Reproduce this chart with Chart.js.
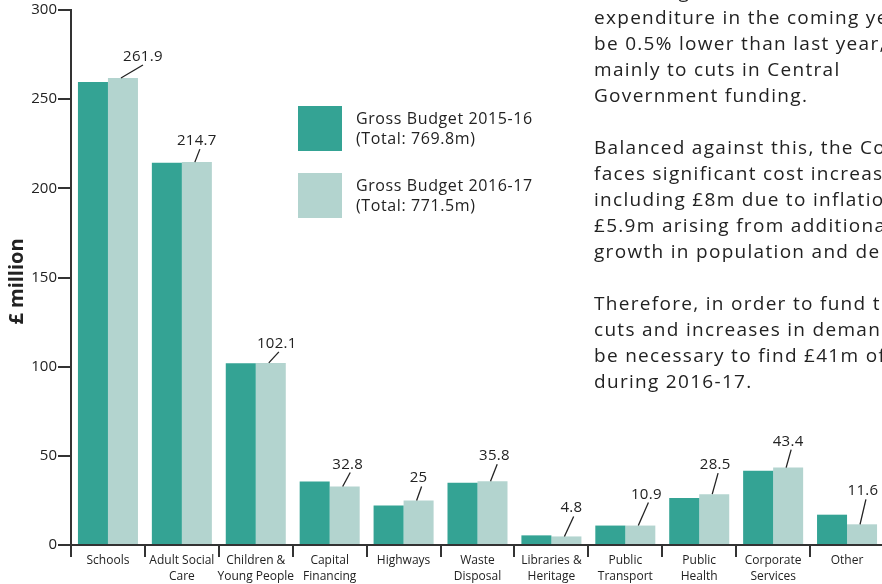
<!DOCTYPE html>
<html>
<head>
<meta charset="utf-8">
<script src="https://cdn.jsdelivr.net/npm/chart.js@4.4.1/dist/chart.umd.min.js"></script>
<style>
  html, body { margin: 0; padding: 0; background: #fff; overflow: hidden; }
  #wrap { position: relative; width: 890px; height: 584px; }
</style>
</head>
<body>
<div id="wrap"><canvas id="budget"></canvas></div>
<script>
// Service areas (multi-line axis labels)
const categories = [
  ["Schools"], ["Adult Social", "Care"], ["Children &", "Young People"],
  ["Capital", "Financing"], ["Highways"], ["Waste", "Disposal"],
  ["Libraries &", "Heritage"], ["Public", "Transport"], ["Public", "Health"],
  ["Corporate", "Services"], ["Other"]
];
// Gross budget, £ million
const budget2015 = [259.6, 214.4, 101.9, 35.6, 22.2, 34.9, 5.4, 10.9, 26.3, 41.6, 17.0];
const budget2016 = [261.9, 214.7, 102.1, 32.8, 25, 35.8, 4.8, 10.9, 28.5, 43.4, 11.6];
const seriesNames = ["Gross Budget 2015-16", "Gross Budget 2016-17"];
const seriesTotals = ["(Total: 769.8m)", "(Total: 771.5m)"];
const yTicks = [0, 50, 100, 150, 200, 250, 300];
const axisTitle = "£ million";

// Accompanying commentary, one entry per printed line
const commentary = [
  "Overall, gross revenue",
  "expenditure in the coming year will",
  "be 0.5% lower than last year, due",
  "mainly to cuts in Central",
  "Government funding.",
  "",
  "Balanced against this, the Council",
  "faces significant cost increases,",
  "including £8m due to inflation and",
  "£5.9m arising from additional",
  "growth in population and demand.",
  "",
  "Therefore, in order to fund these",
  "cuts and increases in demand, it will",
  "be necessary to find £41m of savings",
  "during 2016-17."
];

// Callout placement for the 2016-17 value labels: [x shift, rise above bar]
const calloutPlacement = [
  [20, 17], [0, 17], [6, 15], [3, 18], [0, 18], [2, 21],
  [5, 24], [6, 27], [1, 25], [0, 22], [1, 29]
];

const COLORS = { dark: "#34a394", light: "#b3d4cf", ink: "#222222", axis: "#333333" };
const FONT = "'Open Sans', 'Noto Sans', sans-serif";

const calloutPlugin = {
  id: "callouts",
  afterDatasetsDraw(chart) {
    const ctx = chart.ctx;
    const meta = chart.getDatasetMeta(1);
    ctx.save();
    ctx.font = "15px " + FONT;
    ctx.letterSpacing = "0.3px";
    ctx.fillStyle = COLORS.ink;
    ctx.strokeStyle = COLORS.ink;
    ctx.lineWidth = 1.3;
    ctx.textAlign = "center";
    ctx.textBaseline = "alphabetic";
    meta.data.forEach((bar, i) => {
      const [dx, rise] = calloutPlacement[i];
      const top = bar.y;
      const cx = bar.x;
      const base = top - rise;
      ctx.beginPath();
      ctx.moveTo(cx - 2, top);
      ctx.lineTo(cx + dx * 0.85 + 3, base + 4);
      ctx.stroke();
      ctx.fillText(String(budget2016[i]), cx + dx, base);
    });
    ctx.restore();
  }
};

const decorPlugin = {
  id: "decor",
  afterDraw(chart) {
    const ctx = chart.ctx;
    const area = chart.chartArea;
    ctx.save();
    // Axis title
    ctx.font = "bold 20px " + FONT;
    ctx.fillStyle = COLORS.ink;
    ctx.textAlign = "center";
    ctx.textBaseline = "middle";
    ctx.translate(17, (area.top + area.bottom) / 2 + 4);
    ctx.rotate(-Math.PI / 2);
    ctx.fillText(axisTitle, 0, 0);
    ctx.restore();

    // Legend
    ctx.save();
    const swatches = [COLORS.dark, COLORS.light];
    ctx.font = "16px " + FONT;
    ctx.letterSpacing = "0.6px";
    ctx.fillStyle = COLORS.ink;
    ctx.textAlign = "left";
    ctx.textBaseline = "alphabetic";
    swatches.forEach((c, k) => {
      const y0 = 106 + k * 67;
      ctx.fillStyle = c;
      ctx.fillRect(298, y0, 44, 45);
      ctx.fillStyle = COLORS.ink;
      ctx.fillText(seriesNames[k], 356, y0 + 18);
      ctx.fillText(seriesTotals[k], 356, y0 + 38);
    });
    ctx.restore();

    // Commentary text
    ctx.save();
    ctx.font = "19px " + FONT;
    ctx.letterSpacing = "1.3px";
    ctx.fillStyle = COLORS.ink;
    ctx.textAlign = "left";
    ctx.textBaseline = "alphabetic";
    commentary.forEach((line, k) => {
      if (line) ctx.fillText(line, 594, -2 + k * 26);
    });
    ctx.restore();
  }
};

new Chart(document.getElementById("budget"), {
  type: "bar",
  data: {
    labels: categories,
    datasets: [
      { label: seriesNames[0], data: budget2015, backgroundColor: COLORS.dark },
      { label: seriesNames[1], data: budget2016, backgroundColor: COLORS.light }
    ]
  },
  options: {
    responsive: true,
    maintainAspectRatio: false,
    animation: false,
    events: [],
    layout: { padding: { left: 0, right: 6, top: 10, bottom: 0 } },
    datasets: { bar: { categoryPercentage: 0.812, barPercentage: 1.0, borderWidth: 0 } },
    plugins: { legend: { display: false }, tooltip: { enabled: false } },
    scales: {
      x: {
        grid: { display: true, drawOnChartArea: false, drawTicks: true, tickLength: 12, color: COLORS.axis, lineWidth: 2, offset: true },
        border: { display: true, color: COLORS.axis, width: 2 },
        ticks: { color: COLORS.ink, font: { family: FONT, size: 12, lineHeight: 1.35 }, padding: -5, maxRotation: 0, autoSkip: false },
        afterFit(scale) { scale.height = 39; }
      },
      y: {
        min: 0,
        max: 300,
        afterBuildTicks(scale) { scale.ticks = yTicks.map(v => ({ value: v })); },
        grid: { display: true, drawOnChartArea: false, drawTicks: true, tickLength: 13, color: COLORS.axis, lineWidth: 2 },
        border: { display: true, color: COLORS.axis, width: 2 },
        ticks: { color: COLORS.ink, font: { family: FONT, size: 15 }, padding: 1 },
        afterFit(scale) { scale.width = 71; }
      }
    }
  },
  plugins: [calloutPlugin, decorPlugin]
});
</script>
</body>
</html>
